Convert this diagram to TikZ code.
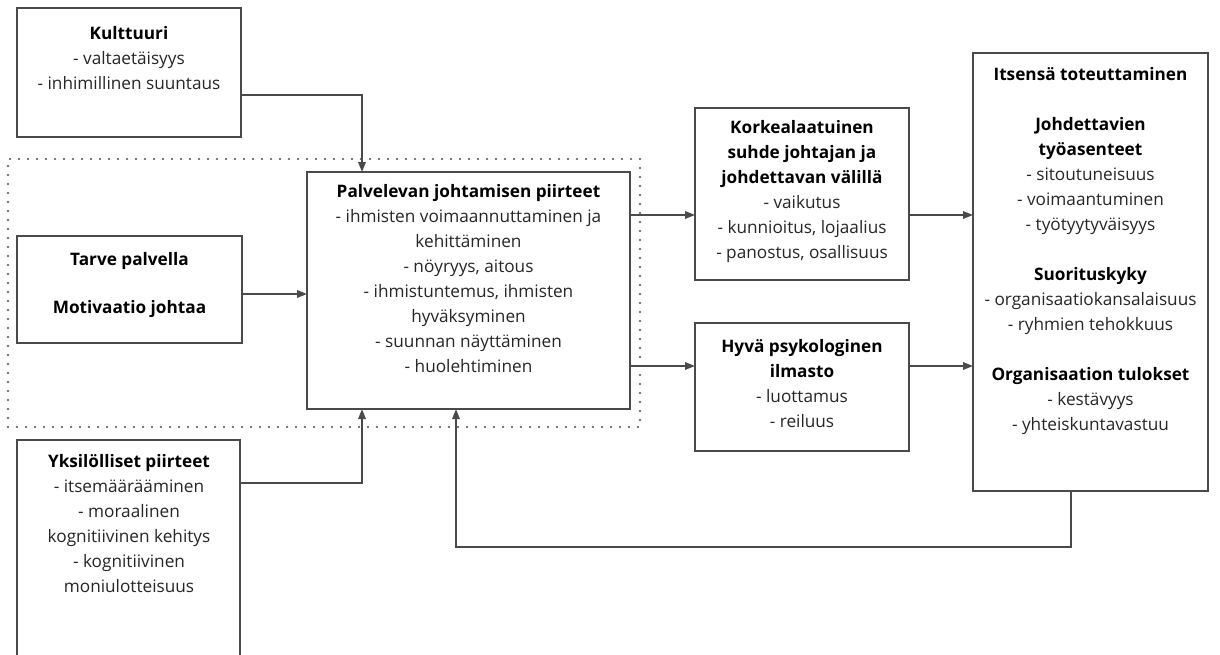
\documentclass[tikz,border=0pt]{standalone}
\usepackage{fontspec}
\setmainfont{Open Sans}
\usetikzlibrary{arrows.meta}
\definecolor{linegray}{HTML}{4A4A4A}
\definecolor{textgray}{HTML}{262626}
\newcommand{\bhead}[1]{\textbf{\color{black}#1}}
\begin{document}
\begin{tikzpicture}[x=1pt,y=-1pt,
  box/.style={draw=linegray, line width=1.7pt, rectangle, inner sep=0pt, outer sep=0pt},
  grpbox/.style={draw=linegray, line width=2.4pt, dash pattern=on 0pt off 9pt, line cap=round, rectangle, inner sep=0pt, outer sep=0pt},
  txt/.style={align=center, inner sep=0pt, anchor=north, text=textgray, font=\fontsize{17.2}{25}\selectfont},
  conn/.style={draw=linegray, line width=1.7pt},
  arr/.style={conn, -{Triangle[length=10pt,width=7.5pt]}}
]
\clip (0,0) rectangle (1220,654);
\fill[white] (0,0) rectangle (1220,654);

% dotted group
\node[grpbox, minimum width=632pt, minimum height=268pt] (grp) at (324,293) {};

% boxes
\node[box, minimum width=224pt, minimum height=129pt] (kult) at (129,72.5) {};
\node[box, minimum width=225pt, minimum height=107pt] (tarve) at (129.5,289.5) {};
\node[box, minimum width=323pt, minimum height=237pt] (palv) at (468.5,290.5) {};
\node[box, minimum width=223pt, minimum height=230pt] (yks) at (128.5,555) {};
\node[box, minimum width=214pt, minimum height=172pt] (kork) at (802,194) {};
\node[box, minimum width=214pt, minimum height=128pt] (hyva) at (802,387) {};
\node[box, minimum width=235pt, minimum height=438pt] (its) at (1090.5,272) {};

% texts
\node[txt] (kultT) at (129,26) {\bhead{Kulttuuri}\\- valtaetäisyys\\- inhimillinen suuntaus};
\node[txt] (tarveT) at (129.5,252) {\bhead{Tarve palvella}\\[23pt]\bhead{Motivaatio johtaa}};
\node[txt] (palvT) at (468.5,184) {\bhead{Palvelevan johtamisen piirteet}\\- ihmisten voimaannuttaminen ja\\kehittäminen\\- nöyryys, aitous\\- ihmistuntemus, ihmisten\\hyväksyminen\\- suunnan näyttäminen\\- huolehtiminen};
\node[txt] (yksT) at (129,454) {\bhead{Yksilölliset piirteet}\\- itsemäärääminen\\- moraalinen\\kognitiivinen kehitys\\- kognitiivinen\\moniulotteisuus};
\node[txt] (korkT) at (802,120) {\bhead{Korkealaatuinen}\\\bhead{suhde johtajan ja}\\\bhead{johdettavan välillä}\\- vaikutus\\- kunnioitus, lojaalius\\- panostus, osallisuus};
\node[txt] (hyvaT) at (802,339) {\bhead{Hyvä psykologinen}\\\bhead{ilmasto}\\- luottamus\\- reiluus};
\node[txt] (itsT) at (1090.5,67) {\bhead{Itsensä toteuttaminen}\\[25pt]\bhead{Johdettavien}\\\bhead{työasenteet}\\- sitoutuneisuus\\- voimaantuminen\\- työtyytyväisyys\\[25pt]\bhead{Suorituskyky}\\- organisaatiokansalaisuus\\- ryhmien tehokkuus\\[25pt]\bhead{Organisaation tulokset}\\- kestävyys\\- yhteiskuntavastuu};

% connectors
\draw[arr] ([yshift=-22.5pt]kult.east) -| ([xshift=-106.5pt]palv.north);
\draw[arr] ([yshift=-4.5pt]tarve.east) -- ([yshift=-4.5pt]tarve.east -| palv.west);
\draw[arr] ([yshift=72pt]yks.east) -| ([xshift=-106.5pt]palv.south);
\coordinate (fb) at (700,547);
\draw[arr] ([xshift=-19.5pt]its.south) |- (fb) -| ([xshift=-12.5pt]palv.south);
\draw[arr] ([yshift=75.5pt]palv.east) -- ([yshift=75.5pt]palv.east -| kork.west);
\draw[arr] ([yshift=-75.5pt]palv.east) -- ([yshift=-75.5pt]palv.east -| hyva.west);
\draw[arr] ([yshift=-21pt]kork.east) -- ([yshift=-21pt]kork.east -| its.west);
\draw[arr] ([yshift=21pt]hyva.east) -- ([yshift=21pt]hyva.east -| its.west);
\end{tikzpicture}
\end{document}
